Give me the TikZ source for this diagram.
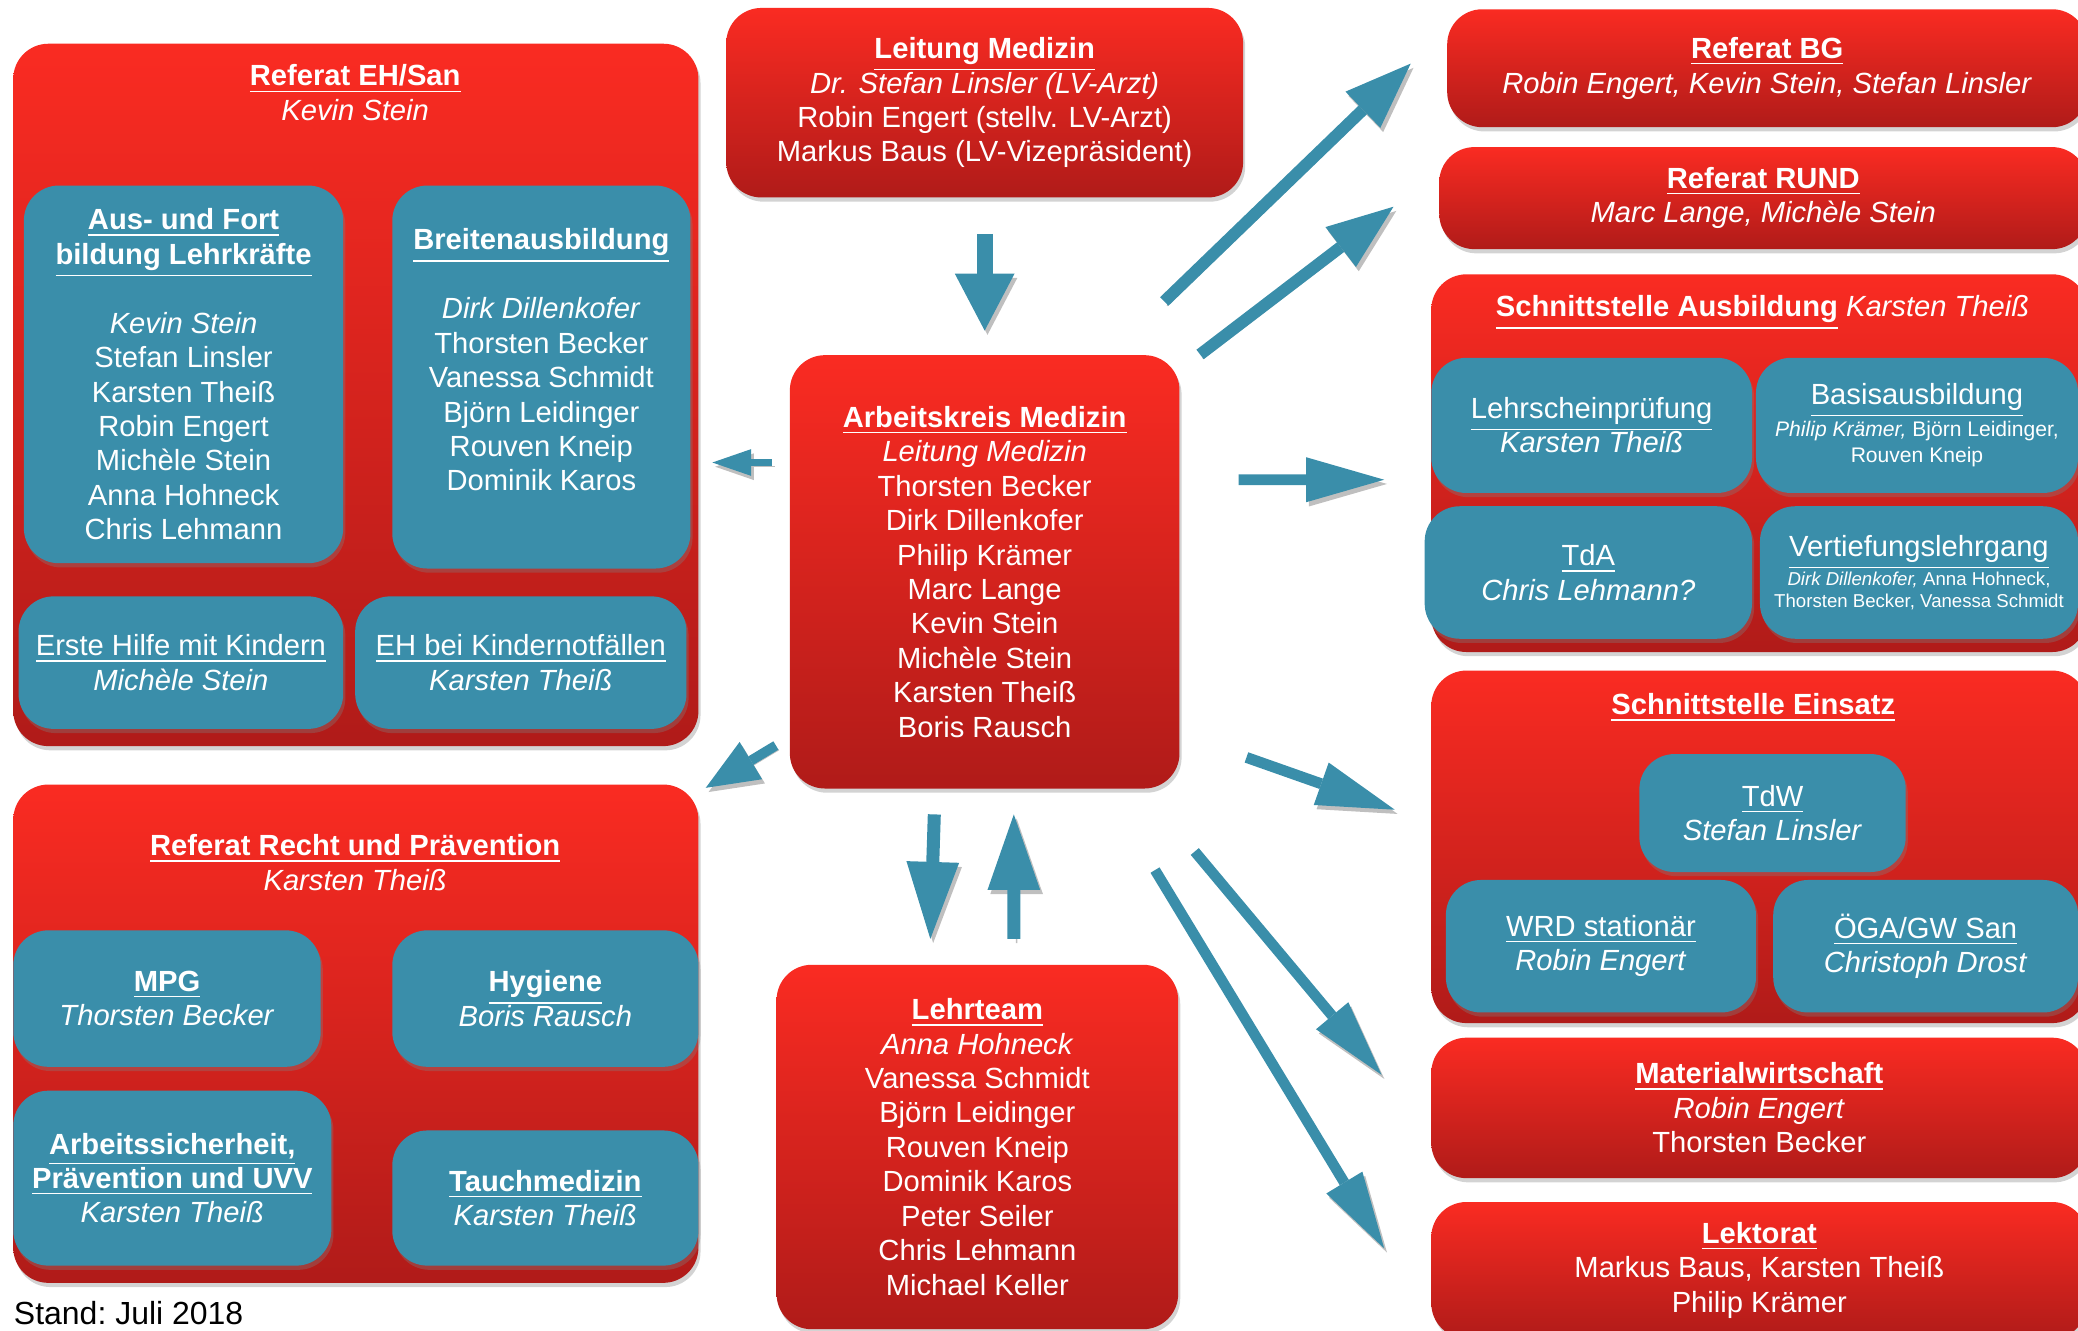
\documentclass[tikz,border=0pt]{standalone}
\usepackage{fontspec}
\setmainfont{Liberation Sans}
\usepackage{tikz}
\usetikzlibrary{arrows.meta,shadows}

\definecolor{rougeH}{RGB}{250,43,34}
\definecolor{rougeB}{RGB}{176,27,25}
\definecolor{bleu}{RGB}{58,142,170}

\newcommand{\petitA}{\fontsize{6}{7.5}\selectfont}
\newcommand{\petitB}{\fontsize{5.3}{6}\selectfont}

\tikzset{
  taille/.style 2 args={minimum width=#1*0.13253mm, minimum height=#2*0.13253mm},
  boite/.style={inner sep=0pt, rounded corners=10pt, text=white, align=center,
    font=\fontsize{8.3}{9.8}\selectfont,
    drop shadow={opacity=.35, shadow xshift=.6pt, shadow yshift=-1.2pt}},
  rouge/.style={boite, top color=rougeH, bottom color=rougeB},
  bleue/.style={boite, fill=bleu},
  titre/.style={text=white, align=center, inner sep=0pt, font=\fontsize{8.3}{9.8}\selectfont},
  fleche/.style n args={3}{draw=bleu, line width=#1,
    -{Triangle[length=#2, width=#3, line width=0pt]},
    preaction={draw=black, opacity=.25, transform canvas={xshift=.8pt, yshift=-1.2pt}}}
}

\begin{document}
\begin{tikzpicture}[x=0.13253mm, y=-0.13253mm]
 \useasboundingbox (0,0) rectangle (1568,1004);

 \node[rouge, taille={390}{143}] (LM) at (743,77.5) {\underline{\textbf{Leitung Medizin}}\\ \textit{Dr. Stefan Linsler (LV-Arzt)}\\ Robin Engert (stellv. LV-Arzt)\\ Markus Baus (LV-Vizepräsident)};
 \node[rouge, taille={294}{327}] (AK) at (743,431.5) {\underline{\textbf{Arbeitskreis Medizin}}\\ \textit{Leitung Medizin}\\ Thorsten Becker\\ Dirk Dillenkofer\\ Philip Krämer\\ Marc Lange\\ Kevin Stein\\ Michèle Stein\\ Karsten Theiß\\ Boris Rausch};
 \node[rouge, taille={303}{275}] (LT) at (737.5,865.5) {\underline{\textbf{Lehrteam}}\\ \textit{Anna Hohneck}\\ Vanessa Schmidt\\ Björn Leidinger\\ Rouven Kneip\\ Dominik Karos\\ Peter Seiler\\ Chris Lehmann\\ Michael Keller};

 \node[rouge, taille={517}{530}] (EH) at (268.5,298) {};
 \node[titre] (T1) at (268,70) {\underline{\textbf{Referat EH/San}}\\ \textit{Kevin Stein}};
 \node[bleue, taille={241}{285}] (AF) at (138.5,282.5) {\underline{\textbf{Aus- und Fort}}\\ \underline{\textbf{bildung Lehrkräfte}}\\[\baselineskip] \textit{Kevin Stein}\\ Stefan Linsler\\ Karsten Theiß\\ Robin Engert\\ Michèle Stein\\ Anna Hohneck\\ Chris Lehmann};
 \node[bleue, taille={225}{289}] (BA) at (408.5,284.5) {\underline{\textbf{Breitenausbildung}}\\[\baselineskip] \textit{Dirk Dillenkofer}\\ Thorsten Becker\\ Vanessa Schmidt\\ Björn Leidinger\\ Rouven Kneip\\ Dominik Karos\\ \mbox{}};
 \node[bleue, taille={245}{100}] (EK) at (136.5,500) {\underline{Erste Hilfe mit Kindern}\\ \textit{Michèle Stein}};
 \node[bleue, taille={250}{100}] (EN) at (393,500) {\underline{EH bei Kindernotfällen}\\ \textit{Karsten Theiß}};

 \node[rouge, taille={517}{376}] (RP) at (268.5,780) {};
 \node[titre] (T2) at (268,651) {\underline{\textbf{Referat Recht und Prävention}}\\ \textit{Karsten Theiß}};
 \node[bleue, taille={232}{103}] (MP) at (126,753.5) {\underline{\textbf{MPG}}\\ \textit{Thorsten Becker}};
 \node[bleue, taille={231}{103}] (HY) at (411.5,753.5) {\underline{\textbf{Hygiene}}\\ \textit{Boris Rausch}};
 \node[bleue, taille={240}{132}] (AS) at (130,889) {\underline{\textbf{Arbeitssicherheit,}}\\ \underline{\textbf{Prävention und UVV}}\\ \textit{Karsten Theiß}};
 \node[bleue, taille={231}{102}] (TM) at (411.5,904) {\underline{\textbf{Tauchmedizin}}\\ \textit{Karsten Theiß}};
 \node[anchor=west, inner sep=0pt, font=\fontsize{9.1}{11}\selectfont] (ST) at (10,991) {Stand:\ Juli 2018};

 \node[rouge, taille={483}{89}] (BG) at (1333.5,51.5) {\underline{\textbf{Referat BG}}\\ \textit{Robin Engert, Kevin Stein, Stefan Linsler}};
 \node[rouge, taille={489}{77}] (RU) at (1330.5,149.5) {\underline{\textbf{Referat RUND}}\\ \textit{Marc Lange, Michèle Stein}};

 \node[rouge, taille={495}{285}] (SA) at (1327.5,349.5) {};
 \node[titre] (T3) at (1330,236) {\underline{\textbf{Schnittstelle Ausbildung}} \textit{Karsten Theiß}};
 \node[bleue, taille={242}{102}] (LP) at (1201,321) {\underline{Lehrscheinprüfung}\\ \textit{Karsten Theiß}};
 \node[bleue, taille={243}{102}] (BS) at (1446.5,321) {\underline{Basisausbildung}\\[-0.8pt] \petitA\textit{Philip Krämer,} Björn Leidinger,\\[-2.3pt] \petitA Rouven Kneip};
 \node[bleue, taille={247}{100}] (TA) at (1198.5,432) {\underline{TdA}\\ \textit{Chris Lehmann?}};
 \node[bleue, taille={240}{100}] (VL) at (1448,432) {\underline{Vertiefungslehrgang}\\[-1.5pt] \petitB\textit{Dirk Dillenkofer,} Anna Hohneck,\\[-3.8pt] \petitB Thorsten Becker, Vanessa Schmidt};

 \node[rouge, taille={495}{266}] (SE) at (1327.5,639) {};
 \node[titre] (T4) at (1323,534) {\underline{\textbf{Schnittstelle Einsatz}}};
 \node[bleue, taille={201}{89}] (TW) at (1337.5,613.5) {\underline{TdW}\\ \textit{Stefan Linsler}};
 \node[bleue, taille={234}{100}] (WS) at (1208,714) {\underline{WRD stationär}\\ \textit{Robin Engert}};
 \node[bleue, taille={230}{100}] (OG) at (1453,714) {\underline{ÖGA/GW San}\\ \textit{Christoph Drost}};

 \node[rouge, taille={495}{106}] (MW) at (1327.5,836) {\underline{\textbf{Materialwirtschaft}}\\ \textit{Robin Engert}\\ Thorsten Becker};
 \node[rouge, taille={495}{103}] (LK) at (1327.5,958.5) {\underline{\textbf{Lektorat}}\\ Markus Baus, Karsten Theiß\\ Philip Krämer};

 \draw[fleche={4.5pt}{16.2pt}{17pt}] ([shift={(0,27)}]LM.south) -- ([shift={(0,-18)}]AK.north);
 \draw[fleche={1.9pt}{11pt}{7.6pt}] ([shift={(-13,-82.5)}]AK.west) -- ([shift={(10,51)}]EH.east);
 \draw[fleche={2.8pt}{15pt}{12.4pt}] ([shift={(-10,-33)}]AK.south west) -- ([shift={(5,3)}]RP.north east);
 \draw[fleche={3.7pt}{21.9pt}{15pt}] ([shift={(-38,19)}]AK.south) -- ([shift={(-35.5,-19)}]LT.north);
 \draw[fleche={3.7pt}{21.5pt}{15pt}] ([shift={(27.5,-19)}]LT.north) -- ([shift={(22,19)}]AK.south);
 \draw[fleche={3.4pt}{18.9pt}{14.3pt}] ([shift={(-12,-40)}]AK.north east) -- ([shift={(-27,-3.5)}]BG.west);
 \draw[fleche={3.4pt}{18.9pt}{14.3pt}] ([shift={(15,0)}]AK.north east) -- ([shift={(-34,6.5)}]RU.west);
 \draw[fleche={3.1pt}{22.2pt}{12.8pt}] ([shift={(44,-69.5)}]AK.east) -- ([shift={(-35,12.5)}]SA.west);
 \draw[fleche={3.1pt}{22.2pt}{12.8pt}] ([shift={(50,-24)}]AK.south east) -- ([shift={(-27,-28)}]SE.west);
 \draw[fleche={3pt}{21.9pt}{12pt}] ([shift={(11,47)}]AK.south east) -- ([shift={(-37,-25)}]MW.west);
 \draw[fleche={3pt}{21.9pt}{12pt}] ([shift={(-19,61)}]AK.south east) -- ([shift={(-35,-16.5)}]LK.west);
\end{tikzpicture}
\end{document}
